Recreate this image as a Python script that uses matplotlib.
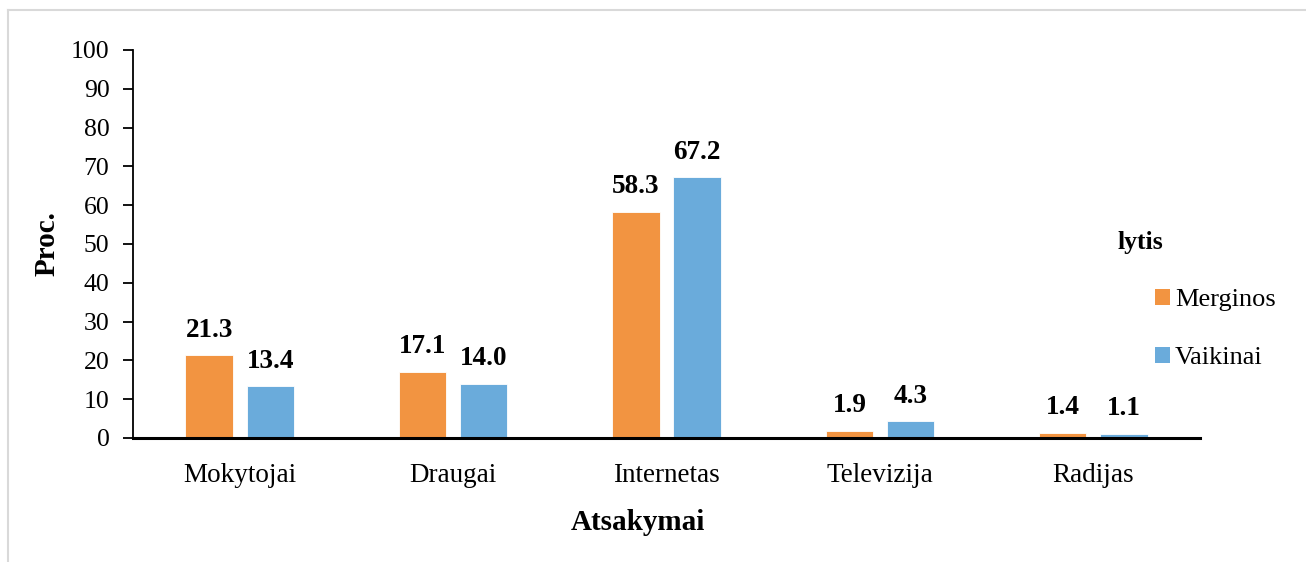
import matplotlib
matplotlib.use("Agg")
import matplotlib.pyplot as plt
import numpy as np
from matplotlib.lines import Line2D
from matplotlib.patches import Patch

categories = ["Mokytojai", "Draugai", "Internetas", "Televizija", "Radijas"]
merginos = [21.3, 17.1, 58.3, 1.9, 1.4]
vaikinai = [13.4, 14.0, 67.2, 4.3, 1.1]
series_names = ["Merginos", "Vaikinai"]
yticks = list(range(0, 101, 10))

plt.rcParams['font.family'] = ['Liberation Serif', 'DejaVu Serif']

W, H = 1306, 562
fig = plt.figure(figsize=(W / 100, H / 100), dpi=100)
ax = fig.add_axes([133 / W, 1 - 438 / H, (1200 - 133) / W, (438 - 50) / H])

orange = "#F29441"
blue = "#6AABDB"
x = np.arange(len(categories))
w = 0.222
off = 0.143
b1 = ax.bar(x - off, merginos, w, color=orange, edgecolor="white", linewidth=0.6)
b2 = ax.bar(x + off, vaikinai, w, color=blue, edgecolor="white", linewidth=0.6)

for bars, vals in ((b1, merginos), (b2, vaikinai)):
    for r, v in zip(bars, vals):
        ax.annotate(f"{v:.1f}", (r.get_x() + r.get_width() / 2, v),
                    xytext=(0, 9), textcoords="offset points",
                    ha="center", va="bottom", fontsize=19.5, fontweight="bold")

ax.set_xlim(-0.5, len(categories) - 0.5)
ax.set_ylim(0, 100)
ax.set_yticks(yticks)
ax.set_xticks(x)
ax.set_xticklabels(categories)
ax.tick_params(axis="x", length=0, labelsize=19.5, pad=18)
ax.tick_params(axis="y", length=7, width=1.3, labelsize=18.5, pad=10, direction="out")
for s in ("top", "right"):
    ax.spines[s].set_visible(False)
ax.spines["left"].set_linewidth(1.3)
ax.spines["bottom"].set_linewidth(2.2)

fig.text(47 / W, 1 - 244 / H, "Proc.", rotation=90, ha="center", va="center",
         fontsize=21, fontweight="bold")
fig.text(638 / W, 1 - 523 / H, "Atsakymai", ha="center", va="center",
         fontsize=21, fontweight="bold")

handles = [Patch(facecolor=orange), Patch(facecolor=blue)]
leg = fig.legend(handles, series_names, loc="upper left",
                 bbox_to_anchor=(1155 / W, 1 - 289 / H), frameon=False,
                 fontsize=19, handlelength=0.55, handleheight=0.55,
                 handletextpad=0.2, labelspacing=1.35, borderaxespad=0,
                 borderpad=0)
fig.text(1140 / W, 1 - 242 / H, "lytis", ha="center", va="center",
         fontsize=18.5, fontweight="bold")

# light outer border
fig.add_artist(Line2D([8 / W, 8 / W], [0, 1 - 10 / H], transform=fig.transFigure,
                      color="#D9D9D9", linewidth=1.5))
fig.add_artist(Line2D([8 / W, 1], [1 - 10 / H, 1 - 10 / H], transform=fig.transFigure,
                      color="#D9D9D9", linewidth=1.5))

fig.savefig("out.png", dpi=100)
